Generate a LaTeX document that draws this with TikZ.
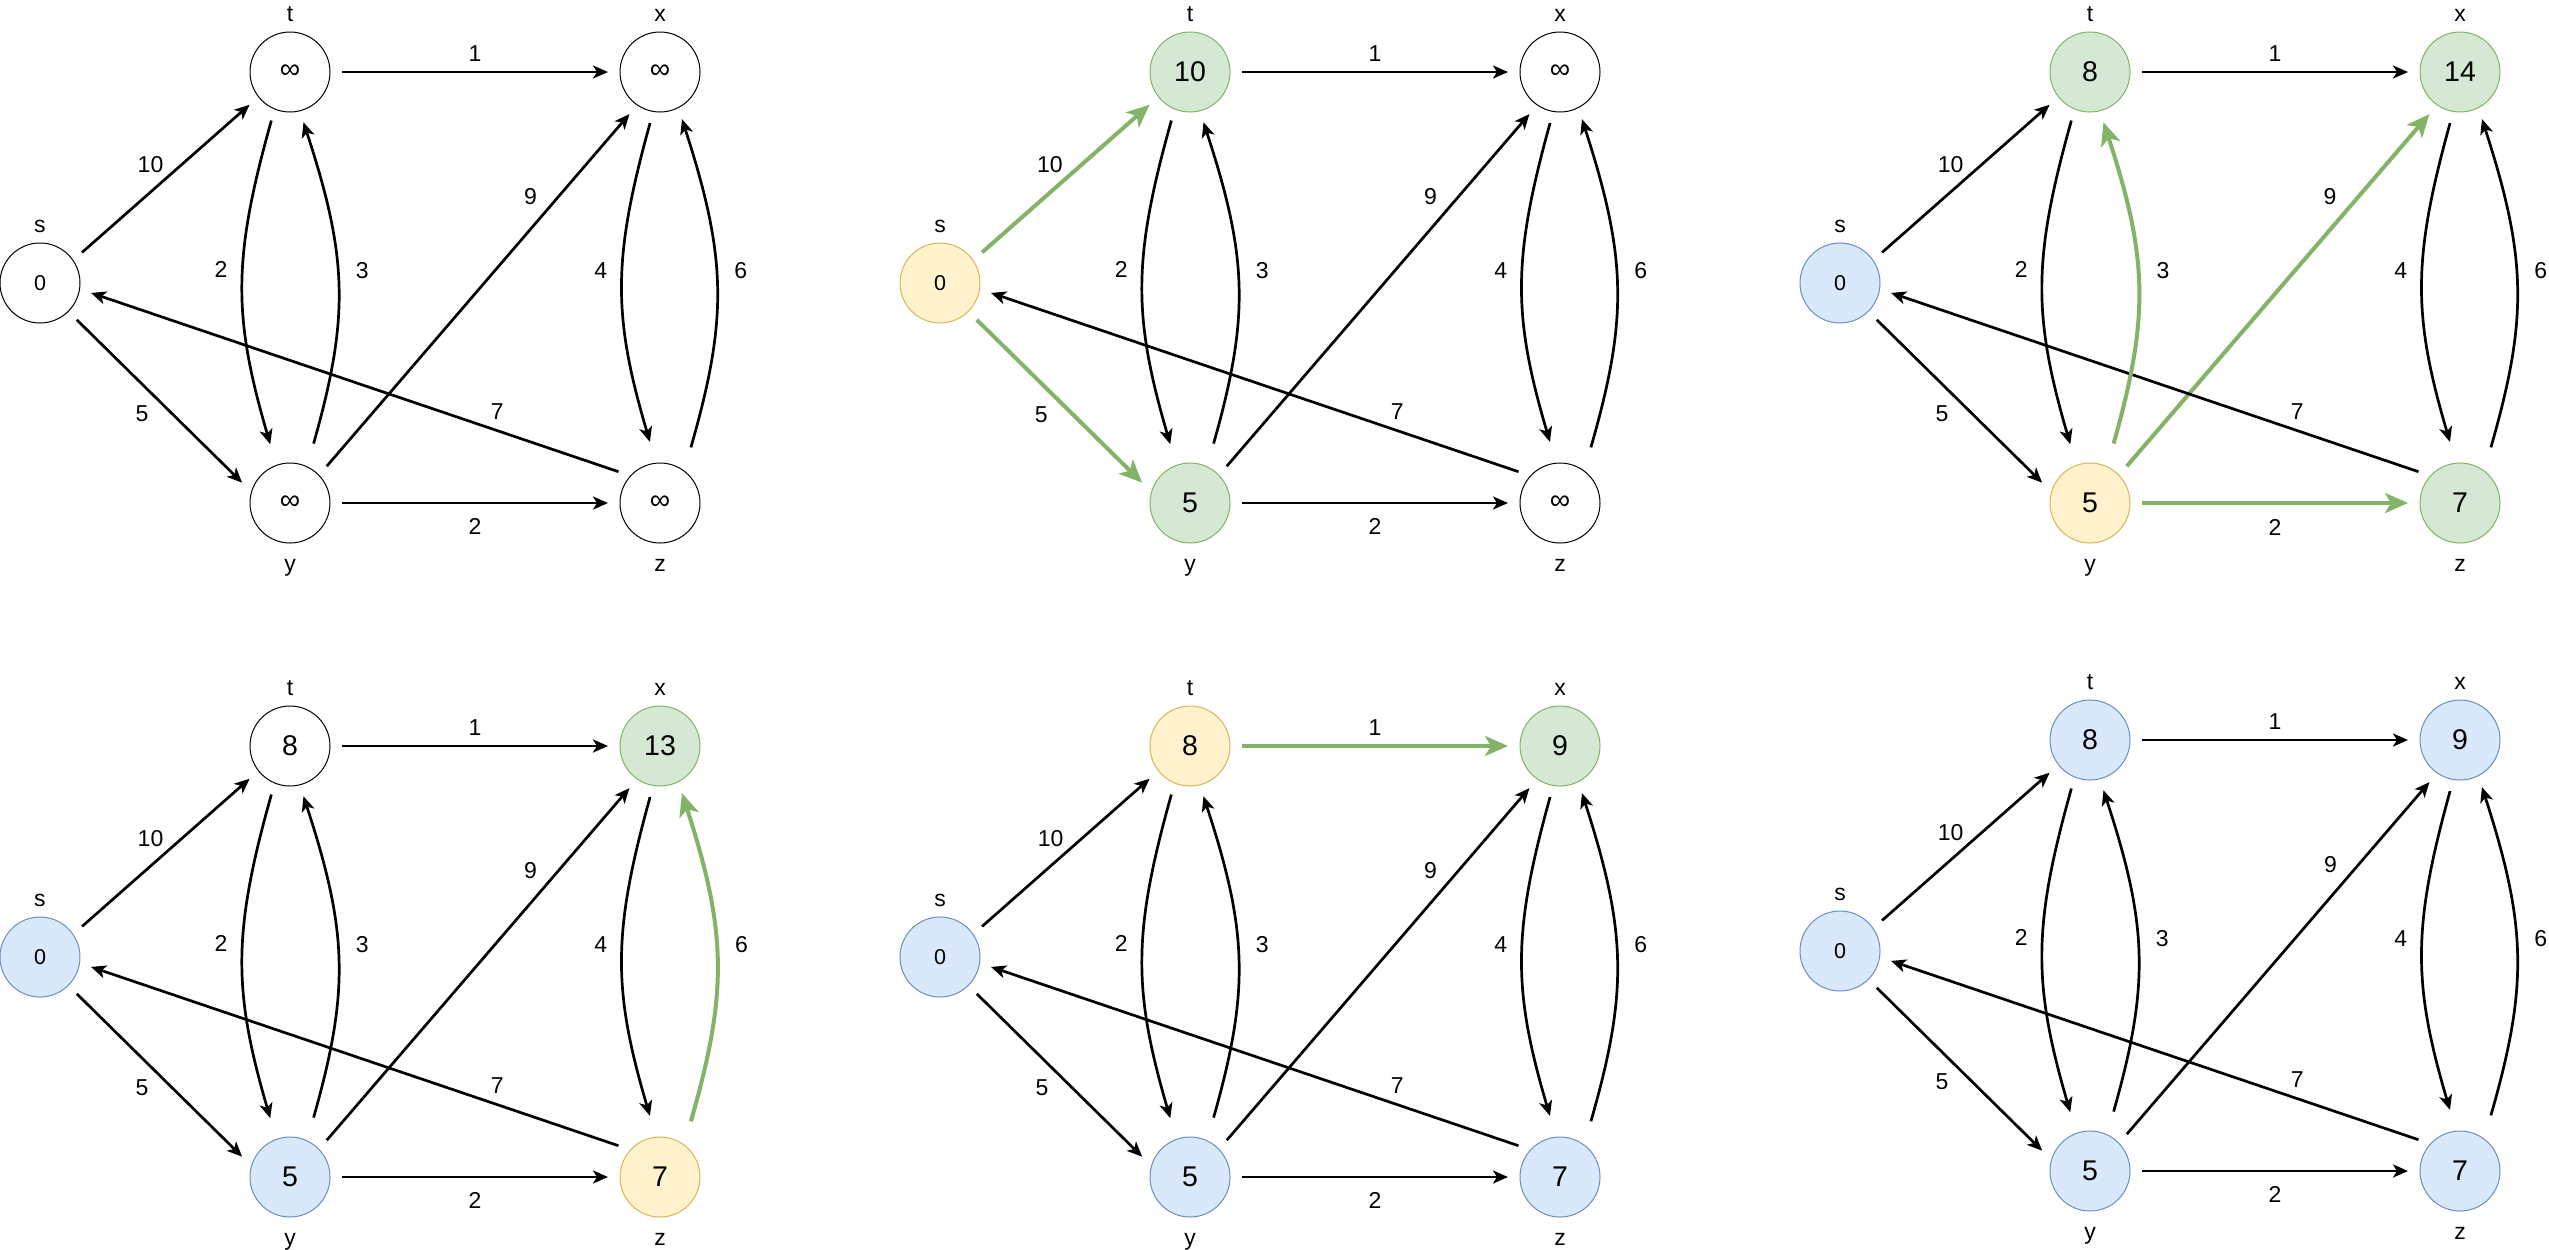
\documentclass[tikz,border=0pt]{standalone}
\usepackage{fontspec}
\setmainfont{Liberation Sans}
\usetikzlibrary{arrows.meta, positioning}
\definecolor{hotgreen}{HTML}{82B366}
\definecolor{openfill}{HTML}{D5E8D4}
\definecolor{curfill}{HTML}{FFF2CC}
\definecolor{curline}{HTML}{D6B656}
\definecolor{donefill}{HTML}{DAE8FC}
\definecolor{doneline}{HTML}{6C8EBF}
\tikzset{
  vtx/.style={circle, minimum size=40pt, inner sep=0pt, outer sep=6pt, line width=0.5pt, font=\fontsize{14.25}{16}\selectfont},
  blank/.style={vtx, draw=black, fill=white},
  reached/.style={vtx, draw=hotgreen, fill=openfill},
  current/.style={vtx, draw=curline, fill=curfill},
  settled/.style={vtx, draw=doneline, fill=donefill},
  srcval/.style={font=\fontsize{10.75}{12}\selectfont},
  nm/.style={anchor=base, inner sep=0pt, font=\fontsize{11.5}{13}\selectfont},
  above name/.style={label={[nm, yshift=-0.5pt]90:#1}},
  below name/.style={label={[nm, yshift=-8.3pt]270:#1}},
  lbl/.style={inner sep=0pt, font=\fontsize{11.5}{13}\selectfont},
  wire/.style={draw=black, line width=1.35pt, -{Stealth[length=7.5pt, width=6.5pt, inset=2pt]}},
  hotwire/.style={draw=hotgreen, line width=2pt, -{Stealth[length=11.5pt, width=10pt, inset=3pt]}},
  s node/.style={blank}, t node/.style={blank}, x node/.style={blank},
  y node/.style={blank}, z node/.style={blank},
  st edge/.style={}, sy edge/.style={}, tx edge/.style={}, yz edge/.style={}, yx edge/.style={},
  zs edge/.style={}, ty edge/.style={}, yt edge/.style={}, xz edge/.style={}, zx edge/.style={}
}
% #1 name prefix, #2..#6 distances of s, t, x, y, z
\newcommand{\dijkgraph}[6]{%
  \node[s node, srcval, above name=s] (#1s) at (40,283) {#2};
  \node[t node, above name=t] (#1t) at (290,72) {#3};
  \node[x node, above name=x] (#1x) at (660,72) {#4};
  \node[y node, below name=y] (#1y) at (290,503) {#5};
  \node[z node, below name=z] (#1z) at (660,503) {#6};
  \draw[wire, st edge] (#1s.36) -- node[lbl, pos=0.51, above left=2pt] {10} (#1t.219);
  \draw[wire, sy edge] (#1s.315) -- node[lbl, pos=0.48, below left=4.5pt] {5} (#1y.157);
  \draw[wire, tx edge] (#1t) -- node[lbl, above=4.5pt] {1} (#1x);
  \draw[wire, yz edge] (#1y) -- node[lbl, below=7pt] {2} (#1z);
  \draw[wire, yx edge] (#1y.45) -- node[lbl, pos=0.72, above left=4.5pt] {9} (#1x.234);
  \draw[wire, zs edge] (#1z.143) -- node[lbl, pos=0.23, above=5pt] {7} (#1s.349);
  \draw[wire, ty edge, shorten >=5pt] (#1t.249) to[bend right=16, looseness=1.1] node[lbl, pos=0.44, left=7pt] {2} (#1y.109);
  \draw[wire, yt edge, shorten <=6pt] (#1y.67) to[bend right=17, looseness=1.1] node[lbl, pos=0.56, right=8.5pt] {3} (#1t.285);
  \draw[wire, xz edge, shorten >=5pt] (#1x.259) to[bend right=16, looseness=1.1] node[lbl, pos=0.44, left=7pt] {4} (#1z.98);
  \draw[wire, zx edge, shorten <=6pt] (#1z.58) to[bend right=17, looseness=1.1] node[lbl, pos=0.56, right=8.5pt] {6} (#1x.295);
}
\begin{document}
\begin{tikzpicture}[x=0.5pt, y=-0.5pt]
  \useasboundingbox (0,0) rectangle (2549,1249);
  \begin{scope}
    \dijkgraph{a}{0}{∞}{∞}{∞}{∞}
  \end{scope}
  \begin{scope}[shift={(900,0)}, s node/.style={current}, t node/.style={reached}, y node/.style={reached},
      st edge/.style={hotwire}, sy edge/.style={hotwire}]
    \dijkgraph{b}{0}{10}{∞}{5}{∞}
  \end{scope}
  \begin{scope}[shift={(1800,0)}, s node/.style={settled}, t node/.style={reached}, x node/.style={reached},
      y node/.style={current}, z node/.style={reached},
      yt edge/.style={hotwire}, yx edge/.style={hotwire}, yz edge/.style={hotwire}]
    \dijkgraph{c}{0}{8}{14}{5}{7}
  \end{scope}
  \begin{scope}[shift={(0,674)}, s node/.style={settled}, x node/.style={reached},
      y node/.style={settled}, z node/.style={current}, zx edge/.style={hotwire}]
    \dijkgraph{d}{0}{8}{13}{5}{7}
  \end{scope}
  \begin{scope}[shift={(900,674)}, s node/.style={settled}, t node/.style={current}, x node/.style={reached},
      y node/.style={settled}, z node/.style={settled}, tx edge/.style={hotwire}]
    \dijkgraph{e}{0}{8}{9}{5}{7}
  \end{scope}
  \begin{scope}[shift={(1800,668)}, s node/.style={settled}, t node/.style={settled}, x node/.style={settled},
      y node/.style={settled}, z node/.style={settled}]
    \dijkgraph{f}{0}{8}{9}{5}{7}
  \end{scope}
\end{tikzpicture}
\end{document}
